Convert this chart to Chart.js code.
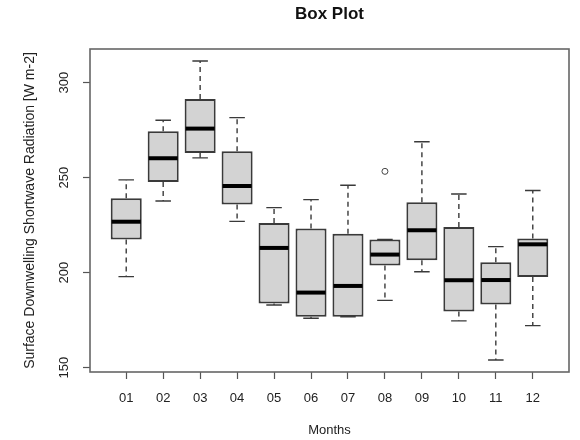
<!DOCTYPE html>
<html>
<head>
<meta charset="utf-8">
<script src="https://cdn.jsdelivr.net/npm/chart.js@4"></script>
<style>
  html, body { margin: 0; padding: 0; background: #fff; }
  #wrap { width: 580px; height: 440px; }
</style>
</head>
<body>
<div id="wrap"><canvas id="chart" width="580" height="440"></canvas></div>
<script>
// Monthly shortwave radiation, five-number summaries per month
const monthLabels = ['01', '02', '03', '04', '05', '06', '07', '08', '09', '10', '11', '12'];
const months = [1, 2, 3, 4, 5, 6, 7, 8, 9, 10, 11, 12];
const whiskerLow  = [197.9, 237.7, 260.4, 227.0, 183.0, 176.0, 176.8, 185.4, 200.5, 174.6, 154.0, 172.1];
const quart1      = [217.5, 247.7, 263.0, 235.8, 183.7, 176.8, 176.8, 203.7, 206.5, 179.5, 183.2, 197.7];
const medians     = [226.8, 260.2, 275.8, 245.6, 213.0, 189.5, 193.0, 209.5, 222.3, 196.0, 196.1, 214.9];
const quart3      = [239.1, 274.4, 291.4, 263.9, 226.1, 223.2, 220.4, 217.4, 237.0, 224.0, 205.4, 217.9];
const whiskerHigh = [248.8, 280.2, 311.4, 281.6, 234.2, 238.4, 246.0, 217.4, 268.9, 241.4, 213.7, 243.2];
const outlierMonths = [8];
const outlierValues = [253.3];
const yTicks = [150, 200, 250, 300];

// R-style axis range: data range plus 4% each side
const allVals = whiskerLow.concat(whiskerHigh, outlierValues);
const lo = Math.min(...allVals), hi = Math.max(...allVals);
const pad = (hi - lo) * 0.04;

const boxData = months.map((m, i) => ({ x: m, y: [quart1[i], quart3[i]] }));
const outData = outlierMonths.map((m, i) => ({ x: m, y: outlierValues[i] }));

// whiskers, staples and medians drawn on top of the floating bars
const boxExtras = {
  id: 'boxExtras',
  beforeDatasetsDraw(chart) {
    const ctx = chart.ctx;
    const y = chart.scales.y;
    const bars = chart.getDatasetMeta(0).data;
    ctx.save();
    ctx.strokeStyle = '#3a3a3a';
    ctx.lineWidth = 1.4;
    bars.forEach((bar, i) => {
      const cx = bar.x;
      const half = bar.width / 4;
      const yHi = y.getPixelForValue(whiskerHigh[i]);
      const yLo = y.getPixelForValue(whiskerLow[i]);
      const yQ3 = y.getPixelForValue(quart3[i]);
      const yQ1 = y.getPixelForValue(quart1[i]);
      ctx.setLineDash([5, 4]);
      ctx.beginPath();
      ctx.moveTo(cx, yQ3); ctx.lineTo(cx, yHi);
      ctx.moveTo(cx, yQ1); ctx.lineTo(cx, yLo);
      ctx.stroke();
      ctx.setLineDash([]);
      ctx.beginPath();
      ctx.moveTo(cx - half, yHi); ctx.lineTo(cx + half, yHi);
      ctx.moveTo(cx - half, yLo); ctx.lineTo(cx + half, yLo);
      ctx.stroke();
    });
    ctx.restore();
  },
  afterDatasetsDraw(chart) {
    const ctx = chart.ctx;
    const y = chart.scales.y;
    const bars = chart.getDatasetMeta(0).data;
    ctx.save();
    ctx.strokeStyle = '#000';
    ctx.lineWidth = 4;
    bars.forEach((bar, i) => {
      const ym = y.getPixelForValue(medians[i]);
      ctx.beginPath();
      ctx.moveTo(bar.x - bar.width / 2 + 1, ym);
      ctx.lineTo(bar.x + bar.width / 2 - 1, ym);
      ctx.stroke();
    });
    // plot frame
    const a = chart.chartArea;
    ctx.strokeStyle = '#666';
    ctx.lineWidth = 1.6;
    ctx.strokeRect(a.left, a.top, a.right - a.left, a.bottom - a.top);
    ctx.restore();
  }
};

new Chart(document.getElementById('chart'), {
  type: 'bar',
  data: {
    datasets: [{
      data: boxData,
      backgroundColor: '#d3d3d3',
      borderColor: '#3a3a3a',
      borderWidth: 2,
      borderSkipped: false,
      barPercentage: 0.84,
      categoryPercentage: 1
    }, {
      type: 'scatter',
      data: outData,
      pointStyle: 'circle',
      pointRadius: 3,
      backgroundColor: 'rgba(0,0,0,0)',
      borderColor: '#444',
      borderWidth: 1
    }]
  },
  options: {
    responsive: false,
    animation: false,
    devicePixelRatio: 1,
    layout: { padding: { left: 0, right: 11, top: 0, bottom: 0 } },
    plugins: {
      legend: { display: false },
      tooltip: { enabled: false },
      title: {
        display: true,
        text: 'Box Plot',
        fullSize: false,
        color: '#111',
        font: { family: 'Liberation Sans, Arial, sans-serif', size: 17, weight: 'bold' },
        padding: { top: 4, bottom: 24.6 }
      }
    },
    scales: {
      x: {
        type: 'linear',
        offset: false,
        min: 0.02,
        max: 12.98,
        afterBuildTicks: s => { s.ticks = months.map(v => ({ value: v })); },
        afterFit: s => { s.height = 68; },
        grid: { offset: false, drawOnChartArea: false, tickLength: 7, tickColor: '#555', tickWidth: 1.2 },
        border: { display: false },
        ticks: {
          padding: 12,
          color: '#222',
          font: { family: 'Liberation Sans, Arial, sans-serif', size: 13 },
          callback: v => monthLabels[v - 1]
        },
        title: {
          display: true,
          text: 'Months',
          color: '#222',
          font: { family: 'Liberation Sans, Arial, sans-serif', size: 13 },
          padding: { top: 0, bottom: 2 }
        }
      },
      y: {
        min: lo - pad,
        max: hi + pad,
        afterBuildTicks: s => { s.ticks = yTicks.map(v => ({ value: v })); },
        afterFit: s => { s.width = 90; },
        grid: { drawOnChartArea: false, tickLength: 7, tickColor: '#555', tickWidth: 1.2 },
        border: { display: false },
        ticks: {
          minRotation: 90,
          maxRotation: 90,
          crossAlign: 'center',
          padding: 8,
          color: '#222',
          font: { family: 'Liberation Sans, Arial, sans-serif', size: 13 },
          callback: v => String(v)
        },
        title: {
          display: true,
          text: 'Surface Downwelling Shortwave Radiation [W m-2]',
          color: '#222',
          font: { family: 'Liberation Sans, Arial, sans-serif', size: 14 },
          padding: { top: 22, bottom: 0 }
        }
      }
    }
  },
  plugins: [boxExtras]
});
</script>
</body>
</html>
